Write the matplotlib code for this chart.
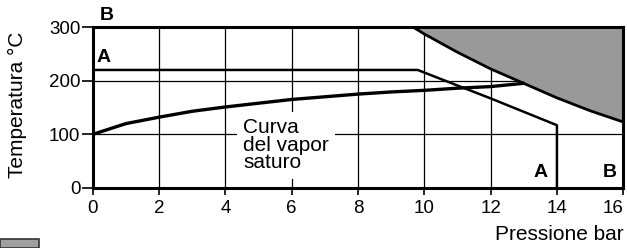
import matplotlib
matplotlib.use('Agg')
import matplotlib.pyplot as plt
from matplotlib.patches import Rectangle

plt.rcParams['font.family'] = ['Liberation Sans', 'DejaVu Sans']

# saturated vapour curve (bar, degC)
satP = [0, 1, 2, 3, 4, 5, 6, 7, 8, 9, 10, 11, 12, 12.98]
satT = [100, 120, 132, 143, 151, 158, 165, 170, 175, 179, 182, 186, 189, 195]

# limit line A
aP = [0, 9.8, 11, 12, 13, 14, 14]
aT = [220, 220, 191, 167, 142, 117, 0]

# limit curve B (upper edge of shaded region)
bP = [9.66, 10, 11, 12, 13, 14, 15, 16]
bT = [300, 287, 253, 222, 195, 168, 144, 123]

xTicks = [0, 2, 4, 6, 8, 10, 12, 14, 16]
yTicks = [0, 100, 200, 300]
gridX = [2, 4, 6, 8, 10, 12]
gridY = [100, 200]

fig = plt.figure(figsize=(6.27, 2.48), dpi=100)
ax = fig.add_axes([0.148, 0.242, 0.846, 0.649])

for xx in gridX:
    ax.axvline(xx, color='black', lw=0.9, zorder=1)
for yy in gridY:
    ax.axhline(yy, color='black', lw=0.9, zorder=1)

ax.fill_between(bP + [16], bT + [300], 300, color='#999999', lw=0, zorder=2)
ax.plot(bP, bT, color='black', lw=2.0, zorder=3)
ax.plot(aP, aT, color='black', lw=1.8, zorder=3)
ax.plot(satP, satT, color='black', lw=2.4, zorder=3)

ax.text(4.53, 80, 'Curva\ndel vapor\nsaturo', fontsize=15, ha='left', va='center',
        linespacing=0.92, zorder=4,
        bbox=dict(facecolor='white', edgecolor='none', pad=4.5))

ax.text(0.12, 244, 'A', fontsize=14, fontweight='bold', va='center', zorder=5)
ax.text(0.2, 322, 'B', fontsize=14, fontweight='bold', va='center', clip_on=False)
ax.text(13.28, 29, 'A', fontsize=14, fontweight='bold', va='center', zorder=5)
ax.text(15.37, 29, 'B', fontsize=14, fontweight='bold', va='center', zorder=5)

ax.set_xlim(0, 16)
ax.set_ylim(0, 300)
ax.set_xticks(xTicks)
ax.set_yticks(yTicks)
ax.tick_params(labelsize=13.5, width=1.2, direction='out')
ax.tick_params(axis='y', length=8, pad=1)
ax.tick_params(axis='x', length=5, pad=4)
# last label sits inside the figure edge
ax.get_xticklabels()[-1].set_horizontalalignment('right')
ax.get_xticklabels()[-1].set_x(16)
for sp in ax.spines.values():
    sp.set_linewidth(2.2)
    sp.set_zorder(6)

fig.text(0.028, 0.577, 'Temperatura °C', fontsize=15, rotation=90,
         ha='center', va='center')
fig.text(0.994, 0.032, 'Pressione bar', fontsize=15, ha='right', va='baseline')

fig.patches.append(Rectangle((0, 0), 0.062, 0.036, transform=fig.transFigure,
                             facecolor='#a0a0a0', edgecolor='#333333', lw=1.2))

fig.savefig('out.png', dpi=100)
